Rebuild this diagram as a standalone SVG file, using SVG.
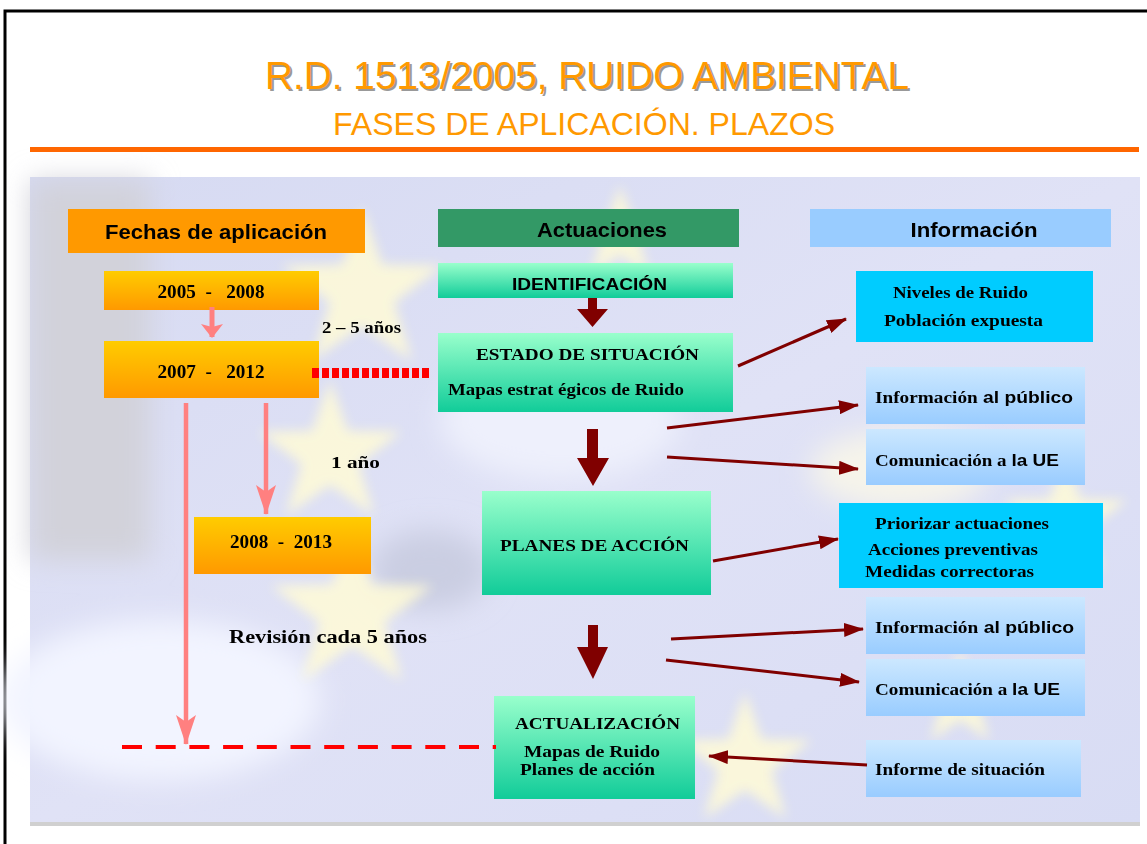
<svg xmlns="http://www.w3.org/2000/svg" xmlns:xlink="http://www.w3.org/1999/xlink" width="1147" height="844" viewBox="0 0 1147 844">
<defs>
<style>
.sans{font-family:"Liberation Sans",Arial,sans-serif;font-weight:bold;fill:#000}
.serif{font-family:"Liberation Serif","Times New Roman",serif;font-weight:bold;fill:#000}
.conn{stroke:#800000;stroke-width:3;fill:none;marker-end:url(#ah)}
.pink{stroke:#FF8080;stroke-width:4.5;fill:none;marker-end:url(#ph)}
.dark{fill:#800000}
</style>
<linearGradient id="gOr" x1="0" y1="0" x2="0" y2="1"><stop offset="0" stop-color="#FFCC00"/><stop offset="1" stop-color="#FF9900"/></linearGradient>
<linearGradient id="gGr" x1="0" y1="0" x2="0" y2="1"><stop offset="0" stop-color="#99FFCC"/><stop offset="1" stop-color="#11CC99"/></linearGradient>
<linearGradient id="gBl" x1="0" y1="0" x2="0" y2="1"><stop offset="0" stop-color="#CCE8FF"/><stop offset="1" stop-color="#99CCFF"/></linearGradient>
<linearGradient id="gBg" x1="0" y1="0" x2="1" y2="1"><stop offset="0" stop-color="#D6DAF2"/><stop offset="0.5" stop-color="#E0E2F6"/><stop offset="1" stop-color="#D8DCF4"/></linearGradient>
<filter id="blur" x="-20%" y="-20%" width="140%" height="140%"><feGaussianBlur stdDeviation="6"/></filter>
<filter id="blur2" x="-20%" y="-20%" width="140%" height="140%"><feGaussianBlur stdDeviation="14"/></filter>
<path id="star" d="M0,-50 L11.76,-16.18 L47.55,-15.45 L19.02,6.18 L29.39,40.45 L0,20 L-29.39,40.45 L-19.02,6.18 L-47.55,-15.45 L-11.76,-16.18 Z"/>
<marker id="ah" markerUnits="userSpaceOnUse" markerWidth="20" markerHeight="14" refX="19" refY="7" orient="auto"><path d="M0,0 L20,7 L0,14 Z" fill="#800000"/></marker>
<marker id="ph" markerUnits="userSpaceOnUse" markerWidth="30" markerHeight="20" refX="29" refY="10" orient="auto"><path d="M0,0 L30,10 L0,20 L7,10 Z" fill="#FF8080"/></marker>
<marker id="ph2" markerUnits="userSpaceOnUse" markerWidth="14" markerHeight="22" refX="13" refY="11" orient="auto"><path d="M0,0 L14,11 L0,22 L3,11 Z" fill="#FF8080"/></marker>
</defs>

<rect x="0" y="0" width="1147" height="844" fill="#FFFFFF"/>
<path d="M5,844 L5,11 L1147,11" fill="none" stroke="#000" stroke-width="3"/>

<g id="title">
<text x="589" y="91" text-anchor="middle" font-family="Liberation Sans, Arial, sans-serif" font-size="38" fill="#999999" textLength="644" lengthAdjust="spacingAndGlyphs">R.D. 1513/2005, RUIDO AMBIENTAL</text>
<text x="587" y="89" text-anchor="middle" font-family="Liberation Sans, Arial, sans-serif" font-size="38" fill="#FF9900" textLength="644" lengthAdjust="spacingAndGlyphs">R.D. 1513/2005, RUIDO AMBIENTAL</text>
<text x="584" y="135" text-anchor="middle" font-family="Liberation Sans, Arial, sans-serif" font-size="31" fill="#FF9900" textLength="502" lengthAdjust="spacingAndGlyphs">FASES DE APLICACIÓN. PLAZOS</text>
<rect x="30" y="147" width="1109" height="5" fill="#FF6600"/>
</g>

<g id="background">
<rect x="30" y="177" width="1110" height="649" fill="url(#gBg)"/>
<g filter="url(#blur2)">
<rect x="30" y="180" width="120" height="380" fill="#D2D2DA"/>
<ellipse cx="160" cy="700" rx="160" ry="80" fill="#F2F4FF"/>
<ellipse cx="560" cy="420" rx="120" ry="60" fill="#EEF0FC"/>
<ellipse cx="430" cy="570" rx="60" ry="40" fill="#CACEE2"/>
<ellipse cx="900" cy="470" rx="90" ry="40" fill="#F6F4EA"/>
</g>
<g filter="url(#blur)" fill="#FFFBD6" opacity="0.85">
<use xlink:href="#star" transform="translate(362,292) scale(1.7)"/>
<use xlink:href="#star" transform="translate(330,455) scale(1.5)"/>
<use xlink:href="#star" transform="translate(352,612) scale(1.7)"/>
<use xlink:href="#star" transform="translate(745,762) scale(1.4)"/>
<use xlink:href="#star" transform="translate(620,235) scale(1.0)"/>
<use xlink:href="#star" transform="translate(1065,520) scale(1.3)"/>
<use xlink:href="#star" transform="translate(960,700) scale(1.0)"/>
</g>
<rect x="30" y="822" width="1110" height="4" fill="#D0D0D0"/>
</g>

<g id="hdr-fechas">
<rect x="68" y="209" width="297" height="44" fill="#FF9900"/>
<text class="sans" x="216" y="239" font-size="20" text-anchor="middle" textLength="222" lengthAdjust="spacingAndGlyphs">Fechas de aplicación</text>
</g>
<g id="hdr-actuaciones">
<rect x="438" y="209" width="301" height="38" fill="#339966"/>
<text class="sans" x="602" y="237" font-size="20" text-anchor="middle" textLength="130" lengthAdjust="spacingAndGlyphs">Actuaciones</text>
</g>
<g id="hdr-informacion">
<rect x="810" y="209" width="301" height="38" fill="#99CCFF"/>
<text class="sans" x="974" y="237" font-size="20" text-anchor="middle" textLength="127" lengthAdjust="spacingAndGlyphs">Información</text>
</g>

<g id="d2005">
<rect x="104" y="271" width="215" height="39" fill="url(#gOr)"/>
<text class="serif" x="211" y="298" font-size="18" text-anchor="middle" textLength="107" lengthAdjust="spacingAndGlyphs" xml:space="preserve">2005  -   2008</text>
</g>
<g id="d2007">
<rect x="104" y="341" width="215" height="57" fill="url(#gOr)"/>
<text class="serif" x="211" y="378" font-size="18" text-anchor="middle" textLength="107" lengthAdjust="spacingAndGlyphs" xml:space="preserve">2007  -   2012</text>
</g>
<g id="d2008">
<rect x="194" y="517" width="177" height="57" fill="url(#gOr)"/>
<text class="serif" x="281" y="548" font-size="18" text-anchor="middle" textLength="102" lengthAdjust="spacingAndGlyphs" xml:space="preserve">2008  -  2013</text>
</g>

<g id="labels">
<text class="serif" x="322" y="333" font-size="16" textLength="79" lengthAdjust="spacingAndGlyphs">2 – 5 años</text>
<text class="serif" x="331" y="468" font-size="16" textLength="49" lengthAdjust="spacingAndGlyphs">1 año</text>
<text class="serif" x="229" y="643" font-size="18" textLength="198" lengthAdjust="spacingAndGlyphs">Revisión cada 5 años</text>
</g>

<g id="identificacion">
<rect x="438" y="263" width="295" height="35" fill="url(#gGr)"/>
<text class="sans" x="589.5" y="290" font-size="17" text-anchor="middle" textLength="155" lengthAdjust="spacingAndGlyphs">IDENTIFICACIÓN</text>
</g>
<g id="estado">
<rect x="438" y="333" width="295" height="79" fill="url(#gGr)"/>
<text class="serif" x="587.5" y="360" font-size="17" text-anchor="middle" textLength="223" lengthAdjust="spacingAndGlyphs">ESTADO DE SITUACIÓN</text>
<text class="serif" x="448" y="395" font-size="16" textLength="236" lengthAdjust="spacingAndGlyphs">Mapas estrat égicos de Ruido</text>
</g>
<g id="planes">
<rect x="482" y="491" width="229" height="104" fill="url(#gGr)"/>
<text class="serif" x="594.5" y="551" font-size="17" text-anchor="middle" textLength="189" lengthAdjust="spacingAndGlyphs">PLANES DE ACCIÓN</text>
</g>
<g id="actualizacion">
<rect x="494" y="696" width="201" height="103" fill="url(#gGr)"/>
<text class="serif" x="597.5" y="729" font-size="17" text-anchor="middle" textLength="165" lengthAdjust="spacingAndGlyphs">ACTUALIZACIÓN</text>
<text class="serif" x="524" y="757" font-size="16" textLength="136" lengthAdjust="spacingAndGlyphs">Mapas de Ruido</text>
<text class="serif" x="520" y="775" font-size="16" textLength="135" lengthAdjust="spacingAndGlyphs">Planes de acción</text>
</g>

<g id="niveles">
<rect x="856" y="271" width="237" height="71" fill="#00CCFF"/>
<text class="serif" x="893" y="298" font-size="16" textLength="135" lengthAdjust="spacingAndGlyphs">Niveles de Ruido</text>
<text class="serif" x="884" y="326" font-size="16" textLength="159" lengthAdjust="spacingAndGlyphs">Población expuesta</text>
</g>
<g id="info-publico-1">
<rect x="866" y="367" width="219" height="57" fill="url(#gBl)"/>
<text x="875" y="403" font-size="17" textLength="198" lengthAdjust="spacingAndGlyphs"><tspan class="serif">Información</tspan><tspan class="sans"> al público</tspan></text>
</g>
<g id="com-ue-1">
<rect x="866" y="429" width="219" height="56" fill="url(#gBl)"/>
<text x="875" y="466" font-size="17" textLength="184" lengthAdjust="spacingAndGlyphs"><tspan class="serif">Comunicación a </tspan><tspan class="sans">la UE</tspan></text>
</g>
<g id="priorizar">
<rect x="839" y="503" width="264" height="85" fill="#00CCFF"/>
<text class="serif" x="875" y="529" font-size="17" textLength="174" lengthAdjust="spacingAndGlyphs">Priorizar actuaciones</text>
<text class="serif" x="868" y="555" font-size="17" textLength="170" lengthAdjust="spacingAndGlyphs">Acciones preventivas</text>
<text class="serif" x="865" y="577" font-size="17" textLength="169" lengthAdjust="spacingAndGlyphs">Medidas correctoras</text>
</g>
<g id="info-publico-2">
<rect x="866" y="597" width="219" height="57" fill="url(#gBl)"/>
<text x="875" y="633" font-size="17" textLength="199" lengthAdjust="spacingAndGlyphs"><tspan class="serif">Información</tspan><tspan class="sans"> al público</tspan></text>
</g>
<g id="com-ue-2">
<rect x="866" y="659" width="219" height="57" fill="url(#gBl)"/>
<text x="875" y="695" font-size="17" textLength="185" lengthAdjust="spacingAndGlyphs"><tspan class="serif">Comunicación a </tspan><tspan class="sans">la UE</tspan></text>
</g>
<g id="informe">
<rect x="866" y="740" width="215" height="57" fill="url(#gBl)"/>
<text class="serif" x="875" y="775" font-size="17" textLength="170" lengthAdjust="spacingAndGlyphs">Informe de situación</text>
</g>

<g id="connectors">
<line x1="212" y1="307" x2="212" y2="337" stroke="#FF8080" stroke-width="5" marker-end="url(#ph2)"/>
<line class="pink" x1="186" y1="403" x2="186" y2="744"/>
<line class="pink" x1="266" y1="403" x2="266" y2="514"/>
<line x1="312" y1="373" x2="432" y2="373" stroke="#FF0000" stroke-width="10" stroke-dasharray="7,3"/>
<line x1="122" y1="747" x2="496" y2="747" stroke="#FF0000" stroke-width="4" stroke-dasharray="20,13.7"/>
<line class="conn" x1="738" y1="366" x2="846" y2="319"/>
<line class="conn" x1="667" y1="428" x2="858" y2="405"/>
<line class="conn" x1="667" y1="457" x2="858" y2="469"/>
<line class="conn" x1="713" y1="561" x2="838" y2="539"/>
<line class="conn" x1="671" y1="639" x2="863" y2="629"/>
<line class="conn" x1="666" y1="660" x2="859" y2="682"/>
<line class="conn" x1="867" y1="765" x2="709" y2="756"/>
<polygon class="dark" points="588,298 597,298 597,309 608,309 592.5,327 577,309 588,309"/>
<polygon class="dark" points="587,429 598,429 598,458 609,458 593,486 577,458 587,458"/>
<polygon class="dark" points="588,625 598,625 598,647 608,647 593,679 577,647 588,647"/>
</g>
</svg>
